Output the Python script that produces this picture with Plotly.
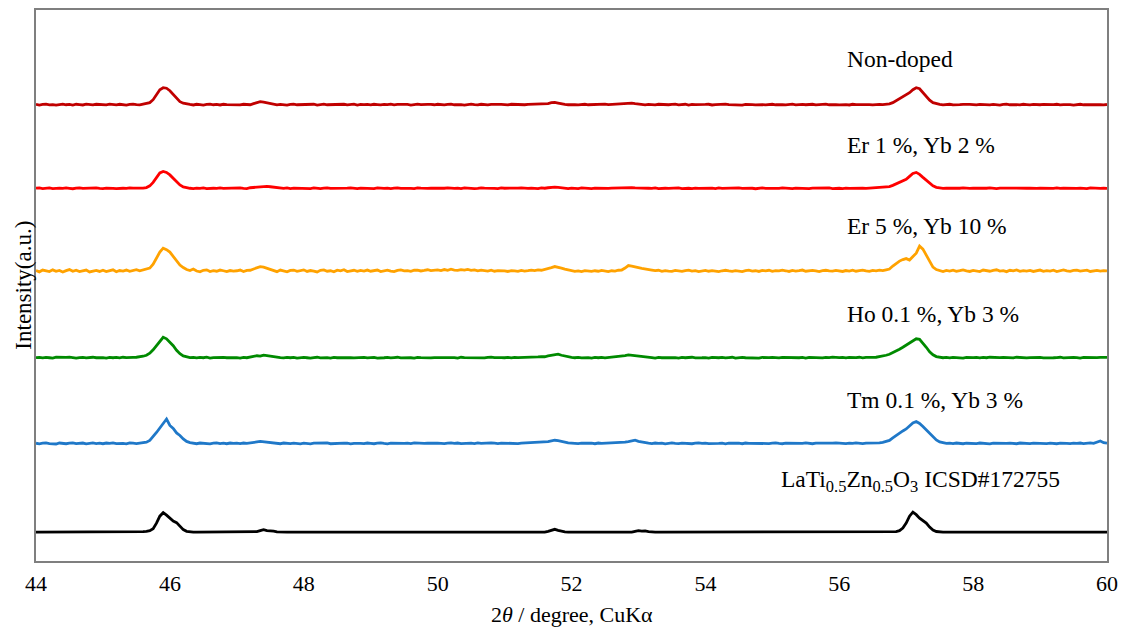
import plotly.graph_objects as go

# ---------------- data ----------------
# 2theta grid (degree), 0.05 step, one row per degree
X = [
 44.00,44.05,44.10,44.15,44.20,44.25,44.30,44.35,44.40,44.45,44.50,44.55,44.60,44.65,44.70,44.75,44.80,44.85,44.90,44.95,
 45.00,45.05,45.10,45.15,45.20,45.25,45.30,45.35,45.40,45.45,45.50,45.55,45.60,45.65,45.70,45.75,45.80,45.85,45.90,45.95,
 46.00,46.05,46.10,46.15,46.20,46.25,46.30,46.35,46.40,46.45,46.50,46.55,46.60,46.65,46.70,46.75,46.80,46.85,46.90,46.95,
 47.00,47.05,47.10,47.15,47.20,47.25,47.30,47.35,47.40,47.45,47.50,47.55,47.60,47.65,47.70,47.75,47.80,47.85,47.90,47.95,
 48.00,48.05,48.10,48.15,48.20,48.25,48.30,48.35,48.40,48.45,48.50,48.55,48.60,48.65,48.70,48.75,48.80,48.85,48.90,48.95,
 49.00,49.05,49.10,49.15,49.20,49.25,49.30,49.35,49.40,49.45,49.50,49.55,49.60,49.65,49.70,49.75,49.80,49.85,49.90,49.95,
 50.00,50.05,50.10,50.15,50.20,50.25,50.30,50.35,50.40,50.45,50.50,50.55,50.60,50.65,50.70,50.75,50.80,50.85,50.90,50.95,
 51.00,51.05,51.10,51.15,51.20,51.25,51.30,51.35,51.40,51.45,51.50,51.55,51.60,51.65,51.70,51.75,51.80,51.85,51.90,51.95,
 52.00,52.05,52.10,52.15,52.20,52.25,52.30,52.35,52.40,52.45,52.50,52.55,52.60,52.65,52.70,52.75,52.80,52.85,52.90,52.95,
 53.00,53.05,53.10,53.15,53.20,53.25,53.30,53.35,53.40,53.45,53.50,53.55,53.60,53.65,53.70,53.75,53.80,53.85,53.90,53.95,
 54.00,54.05,54.10,54.15,54.20,54.25,54.30,54.35,54.40,54.45,54.50,54.55,54.60,54.65,54.70,54.75,54.80,54.85,54.90,54.95,
 55.00,55.05,55.10,55.15,55.20,55.25,55.30,55.35,55.40,55.45,55.50,55.55,55.60,55.65,55.70,55.75,55.80,55.85,55.90,55.95,
 56.00,56.05,56.10,56.15,56.20,56.25,56.30,56.35,56.40,56.45,56.50,56.55,56.60,56.65,56.70,56.75,56.80,56.85,56.90,56.95,
 57.00,57.05,57.10,57.15,57.20,57.25,57.30,57.35,57.40,57.45,57.50,57.55,57.60,57.65,57.70,57.75,57.80,57.85,57.90,57.95,
 58.00,58.05,58.10,58.15,58.20,58.25,58.30,58.35,58.40,58.45,58.50,58.55,58.60,58.65,58.70,58.75,58.80,58.85,58.90,58.95,
 59.00,59.05,59.10,59.15,59.20,59.25,59.30,59.35,59.40,59.45,59.50,59.55,59.60,59.65,59.70,59.75,59.80,59.85,59.90,59.95,
 60.00,
]

NON_DOPED = [
 0.3,-0.4,0.2,0.5,-0.2,0.1,-0.5,0.3,0.6,-0.1,0.2,-0.4,0.4,0.1,-0.3,0.5,0.2,-0.2,0.4,0.0,
 0.2,-0.3,0.5,0.1,-0.2,0.4,0.0,-0.4,0.3,0.6,0.0,-0.2,0.5,1.0,2.0,5.0,10.0,15.0,17.0,16.5,
 14.0,10.0,6.0,3.0,1.5,0.5,0.2,-0.3,0.4,0.1,-0.4,0.3,0.5,-0.1,0.2,-0.3,0.4,0.0,-0.2,0.3,
 0.1,-0.3,0.4,0.2,-0.1,1.0,2.0,3.0,2.5,2.0,1.2,0.5,-0.2,0.3,0.0,-0.4,0.2,0.5,-0.1,0.1,
 0.3,-0.2,0.1,0.4,-0.4,0.2,0.5,-0.1,0.0,0.3,-0.3,0.2,0.4,-0.2,0.1,0.5,-0.4,0.2,0.0,0.3,
 -0.2,0.4,0.1,-0.3,0.3,0.0,0.5,-0.2,0.2,0.4,-0.1,0.3,-0.4,0.1,0.5,0.0,-0.2,0.3,0.2,-0.1,
 0.4,0.0,-0.3,0.2,0.5,-0.1,0.3,0.1,-0.4,0.2,0.6,0.0,-0.2,0.4,0.1,-0.3,0.3,0.5,0.0,0.2,
 0.1,-0.2,0.4,0.2,0.0,0.5,-0.1,0.3,0.4,0.1,0.6,0.2,0.5,1.0,2.0,2.2,1.5,0.6,0.2,-0.1,
 0.3,0.0,-0.3,0.2,0.4,-0.1,0.1,0.3,-0.2,0.2,0.5,0.0,0.3,0.1,0.4,0.6,1.2,1.6,1.5,1.0,
 0.5,0.2,-0.2,0.3,0.1,-0.3,0.4,0.0,0.2,-0.1,0.3,0.5,-0.2,0.1,0.4,-0.4,0.2,0.0,0.3,-0.1,
 0.2,0.4,-0.3,0.1,0.3,-0.1,0.5,0.0,-0.2,0.3,0.1,-0.4,0.2,0.4,0.0,-0.2,0.3,0.1,-0.3,0.2,
 0.4,-0.1,0.2,0.0,-0.3,0.3,0.5,-0.2,0.1,0.3,-0.1,0.2,0.4,-0.3,0.0,0.2,0.5,-0.1,0.3,0.1,
 -0.2,0.3,0.1,-0.3,0.4,0.0,0.2,-0.1,0.5,0.1,-0.2,0.3,0.2,0.0,0.4,0.8,2.0,4.0,6.0,8.0,
 10.0,12.0,15.0,17.0,16.0,12.0,8.0,4.5,2.0,0.8,0.3,-0.2,0.1,0.4,-0.3,0.2,0.0,0.3,-0.1,0.2,
 0.1,-0.3,0.3,0.0,0.4,-0.2,0.2,0.1,-0.4,0.3,0.5,-0.1,0.2,0.0,-0.3,0.4,0.1,-0.2,0.3,0.0,
 -0.1,0.3,0.2,-0.3,0.1,0.4,-0.2,0.0,0.3,0.1,-0.4,0.2,0.4,-0.1,0.0,0.3,-0.2,0.2,0.1,-0.3,
 0.2,
]

ER1_YB2 = [
 0.2,0.5,-0.2,0.0,0.4,-0.3,0.1,0.3,-0.1,0.4,0.0,-0.4,0.2,0.5,-0.1,0.1,0.3,-0.2,0.4,0.0,
 -0.3,0.2,0.4,0.0,-0.2,0.3,0.1,-0.1,0.5,0.2,0.0,0.4,0.3,0.8,2.5,6.0,11.0,15.5,17.0,16.0,
 13.5,10.0,6.5,3.5,1.5,0.6,0.1,-0.2,0.3,0.0,0.4,-0.3,0.2,0.1,-0.1,0.4,0.0,0.2,-0.3,0.3,
 0.1,0.4,0.0,-0.2,0.6,1.0,1.5,1.8,2.2,2.0,1.6,1.2,0.7,0.3,0.0,0.4,-0.2,0.2,0.1,-0.3,
 0.3,0.0,-0.2,0.4,0.1,-0.3,0.2,0.5,0.0,-0.1,0.3,0.1,-0.4,0.2,0.4,0.0,-0.2,0.3,0.1,0.0,
 0.2,-0.3,0.4,0.1,0.0,0.3,-0.2,0.2,0.5,-0.1,0.1,0.3,0.0,-0.3,0.4,0.2,-0.1,0.0,0.3,0.1,
 -0.2,0.3,0.1,0.4,-0.1,0.0,0.2,-0.3,0.4,0.1,0.3,-0.2,0.0,0.5,0.2,-0.1,0.3,0.0,-0.2,0.4,
 0.1,0.0,0.3,-0.2,0.2,0.4,0.0,-0.1,0.3,0.2,-0.3,0.4,0.1,0.6,1.0,1.2,0.9,0.5,0.1,-0.2,
 0.3,0.1,-0.2,0.4,0.0,0.2,-0.3,0.3,0.1,0.0,0.4,-0.1,0.2,0.3,0.0,0.5,0.8,1.0,0.7,0.4,
 0.2,-0.2,0.3,0.1,0.0,0.4,-0.3,0.2,0.1,-0.1,0.3,0.0,0.4,-0.2,0.2,0.1,-0.3,0.3,0.0,0.2,
 -0.1,0.3,0.2,-0.3,0.4,0.0,0.1,0.3,-0.2,0.2,0.5,-0.1,0.0,0.3,0.1,-0.4,0.2,0.4,0.0,-0.2,
 0.3,0.1,-0.1,0.4,0.0,0.2,-0.3,0.3,0.1,0.0,0.4,-0.2,0.2,0.3,-0.1,0.1,0.0,0.4,-0.2,0.2,
 0.1,-0.2,0.3,0.0,0.2,-0.1,0.4,0.1,0.0,0.3,0.5,0.4,0.8,1.0,1.2,1.8,3.0,4.5,5.5,7.0,
 9.0,12.0,15.0,16.0,14.0,11.0,8.0,5.0,2.5,1.0,0.3,-0.1,0.2,0.0,0.3,-0.2,0.1,0.4,0.0,-0.1,
 0.2,0.0,0.3,-0.2,0.1,0.4,0.0,-0.3,0.2,0.1,0.3,-0.1,0.0,0.4,0.2,-0.2,0.1,0.3,0.0,-0.1,
 0.3,0.1,-0.2,0.2,0.0,0.4,-0.1,0.3,0.1,-0.3,0.2,0.0,0.3,0.1,-0.2,0.4,0.0,0.2,-0.1,0.1,
 0.0,
]

ER5_YB10 = [
 0.5,-0.8,1.0,0.2,-0.5,1.2,-0.3,0.6,-1.0,0.4,1.5,-0.2,0.8,-0.6,0.3,1.0,-0.9,0.2,0.7,-0.4,
 0.9,-0.5,0.3,1.2,-0.7,0.5,0.0,1.0,-0.3,0.6,1.3,0.2,1.0,1.5,3.0,7.0,13.0,19.0,23.0,21.5,
 19.0,15.0,10.0,6.0,3.5,1.5,0.5,2.0,0.0,-0.8,0.8,1.2,-0.5,0.4,-0.2,1.0,0.3,-0.6,0.5,0.0,
 0.3,1.0,-0.5,0.6,0.8,2.0,3.0,4.5,4.0,3.0,1.5,0.5,-0.6,1.0,0.2,-0.8,0.6,1.0,-0.3,0.4,
 1.2,-0.4,0.5,0.0,-0.9,0.7,1.1,-0.2,0.3,-0.7,0.9,0.2,1.3,-0.5,0.4,0.8,-0.3,0.6,0.0,1.0,
 -0.2,0.6,1.0,-0.5,0.3,0.9,0.0,-0.6,0.7,1.2,0.2,0.5,-0.3,0.8,1.0,0.1,0.6,1.3,0.4,0.9,
 1.2,0.5,1.5,0.8,1.8,1.0,0.6,1.4,0.9,1.6,0.7,1.2,0.3,1.0,0.5,0.0,0.8,-0.2,0.4,0.6,
 0.2,-0.4,0.5,0.1,-0.3,0.7,0.0,0.4,0.9,0.5,1.2,0.8,1.5,2.5,3.5,4.5,4.0,3.0,2.0,1.2,
 0.5,-0.3,0.2,-0.6,0.4,0.0,-0.4,0.3,-0.2,0.6,0.1,-0.5,0.3,0.0,0.8,1.0,3.0,5.5,5.0,4.0,
 3.5,2.8,2.0,1.5,1.0,0.4,0.8,-0.2,0.5,0.0,-0.4,0.6,0.2,-0.3,0.5,0.9,0.0,0.4,-0.5,0.3,
 0.7,-0.2,0.4,0.0,-0.6,0.3,0.8,0.1,-0.3,0.5,0.2,-0.5,0.4,0.9,0.0,0.3,-0.4,0.6,0.2,0.8,
 -0.3,0.5,0.1,0.9,0.3,-0.4,0.6,0.0,0.4,1.0,-0.2,0.3,0.7,0.1,-0.5,0.4,0.8,0.2,-0.1,0.6,
 0.3,-0.4,0.5,0.0,0.8,-0.2,0.4,1.0,0.1,-0.3,0.6,0.2,0.9,0.4,1.2,2.0,5.0,8.0,10.0,11.5,
 12.5,11.0,14.0,18.0,25.0,22.0,16.0,10.0,4.0,1.5,0.3,-0.5,0.6,0.0,0.9,-0.3,0.4,1.2,0.2,-0.4,
 0.7,0.1,-0.5,1.0,0.3,-0.2,0.6,1.3,0.0,0.4,-0.6,0.8,0.2,1.1,-0.3,0.5,0.0,0.7,-0.4,0.3,
 1.0,-0.2,0.5,0.0,0.8,-0.5,0.3,1.1,0.2,-0.3,0.6,1.0,-0.1,0.4,0.9,-0.4,0.2,0.7,0.0,0.5,
 0.2,
]

HO01_YB3 = [
 0.1,0.4,-0.2,0.3,0.0,-0.4,0.5,0.2,-0.1,0.3,0.6,0.0,-0.3,0.2,0.4,-0.2,0.1,0.5,0.0,0.3,
 0.2,-0.3,0.4,0.0,0.3,-0.2,0.5,0.1,-0.1,0.4,0.5,0.8,1.5,2.5,4.5,8.0,12.0,16.5,20.5,19.0,
 16.0,12.0,7.5,4.0,1.8,0.6,0.1,0.4,-0.2,0.3,0.0,0.5,-0.3,0.2,0.4,-0.1,0.3,0.0,0.2,-0.3,
 0.2,-0.3,0.4,0.0,0.8,1.5,2.0,1.6,2.6,2.2,1.5,1.0,0.4,0.1,-0.2,0.3,0.0,0.4,-0.3,0.2,
 0.3,0.0,-0.4,0.2,0.5,-0.1,0.3,0.1,-0.3,0.4,0.0,0.2,-0.2,0.5,0.1,-0.1,0.3,0.0,0.4,-0.2,
 0.1,0.3,-0.3,0.2,0.0,0.4,-0.1,0.2,0.5,-0.2,0.1,0.3,0.0,-0.3,0.4,0.2,0.0,0.5,-0.1,0.2,
 0.3,-0.2,0.1,0.4,0.0,0.2,-0.3,0.5,0.1,0.0,0.3,-0.1,0.4,0.2,-0.2,0.3,0.6,0.1,0.4,0.2,
 0.0,0.3,-0.2,0.4,0.1,0.2,0.5,0.0,0.3,0.6,0.8,1.2,1.0,1.8,2.2,2.8,3.6,2.5,1.5,0.8,
 0.3,0.0,0.4,-0.2,0.2,0.1,-0.3,0.3,0.0,0.4,-0.1,0.2,0.5,0.8,1.2,1.8,2.2,2.8,2.5,2.0,
 1.6,1.2,0.9,0.5,0.2,-0.4,0.3,0.0,0.2,-0.2,0.4,0.1,-0.3,0.3,0.0,0.2,0.5,-0.1,0.3,0.0,
 0.2,-0.3,0.4,0.1,0.0,0.3,-0.2,0.2,0.5,-0.4,0.1,0.3,0.0,-0.1,0.4,0.2,-0.3,0.3,0.0,0.2,
 0.4,0.0,-0.2,0.3,0.1,0.5,-0.1,0.2,0.0,0.3,-0.3,0.4,0.2,0.0,0.3,-0.2,0.4,0.1,0.6,0.2,
 0.1,0.4,-0.2,0.3,0.0,0.2,0.5,-0.1,0.3,0.1,0.4,0.5,1.0,1.8,2.5,3.5,5.0,6.5,8.5,10.5,
 12.5,14.5,17.0,19.0,18.5,15.0,10.5,6.0,3.0,1.2,0.4,0.0,0.3,-0.2,0.4,0.1,0.2,-0.3,0.3,0.0,
 0.2,0.4,-0.1,0.3,0.0,0.5,0.2,-0.3,0.1,0.4,0.0,0.2,-0.2,0.5,0.1,0.3,-0.1,0.2,0.4,0.0,
 0.3,-0.2,0.1,0.4,0.0,0.2,0.5,-0.1,0.3,0.0,0.4,0.2,-0.3,0.3,0.1,0.6,0.0,0.2,0.4,0.1,
 0.3,
]

TM01_YB3 = [
 0.2,-0.4,0.3,0.5,-0.1,0.0,-0.6,0.4,0.1,-0.3,0.3,0.6,-0.2,0.0,0.4,-0.5,0.2,0.5,-0.1,0.3,
 -0.3,0.4,0.0,0.6,-0.2,0.3,0.1,-0.4,0.5,0.2,-0.1,0.4,0.5,1.2,3.0,6.5,11.0,15.5,20.0,24.5,
 18.0,15.0,10.5,8.0,4.5,2.0,0.8,0.2,-0.3,0.4,0.1,0.0,-0.4,0.3,0.5,-0.1,0.2,-0.3,0.4,0.0,
 0.3,-0.2,0.4,0.0,0.3,0.8,1.5,2.0,1.6,1.8,1.2,0.6,0.1,-0.3,0.4,0.0,-0.2,0.3,0.1,-0.4,
 0.2,0.0,-0.5,0.3,0.4,-0.2,0.1,0.5,-0.3,0.0,0.3,-0.1,0.4,0.2,-0.4,0.1,0.3,0.0,-0.2,0.4,
 0.1,-0.3,0.2,0.5,0.0,-0.4,0.3,0.1,0.4,-0.2,0.0,0.3,-0.1,0.5,0.2,-0.3,0.1,0.4,0.0,0.2,
 0.4,0.1,-0.2,0.3,0.6,0.0,0.4,-0.1,0.2,0.5,0.3,-0.2,0.6,0.1,0.4,0.0,0.5,0.2,-0.1,0.4,
 0.3,0.0,0.5,0.2,-0.2,0.4,0.6,0.1,0.3,0.5,0.8,1.0,1.2,1.8,2.5,3.2,2.8,1.8,1.2,0.6,
 0.4,0.1,-0.2,0.3,0.5,0.0,0.2,-0.3,0.4,0.1,0.3,0.0,0.5,0.2,0.6,0.8,1.2,1.8,2.5,3.2,
 2.0,1.2,0.6,0.2,-0.2,0.4,0.0,0.3,-0.4,0.2,0.5,0.1,-0.2,0.3,0.0,0.4,-0.3,0.2,0.5,0.0,
 0.3,-0.2,0.1,0.4,0.0,0.2,-0.4,0.3,0.5,0.0,0.2,-0.3,0.4,0.1,0.0,0.3,-0.2,0.4,0.1,-0.1,
 0.2,0.5,0.0,-0.3,0.3,0.1,0.4,-0.2,0.2,0.0,0.5,0.1,-0.3,0.3,0.2,0.6,0.0,0.4,0.3,0.5,
 0.1,0.4,-0.2,0.3,0.0,0.5,0.2,-0.1,0.4,0.3,0.2,0.5,0.6,1.0,1.8,3.0,5.5,8.0,10.0,12.5,
 14.5,17.5,20.5,22.0,20.0,17.0,13.5,10.0,6.5,3.5,1.5,0.5,0.0,0.3,-0.2,0.4,0.1,-0.3,0.2,0.0,
 0.3,-0.1,0.4,0.0,0.2,-0.4,0.3,0.1,0.5,-0.2,0.0,0.3,0.2,-0.3,0.4,0.1,0.0,-0.2,0.3,0.1,
 0.2,0.4,-0.1,0.3,0.0,-0.3,0.2,0.5,0.1,-0.2,0.3,0.0,0.4,-0.1,0.2,0.6,0.1,1.0,2.5,0.8,
 0.3,
]

ICSD_172755 = [
 0,0,0,0,0,0,0,0,0,0,0,0,0,0,0,0,0,0,0,0,
 0,0,0,0,0,0,0,0,0,0,0,0.3,0.5,0.8,1.5,3.5,9.0,16.0,19.5,17.0,
 13.5,11.0,9.5,6.0,2.5,0.8,0.2,0,0,0,0,0,0,0,0,0,0,0,0,0,
 0,0,0,0,0,0,0.5,1.5,2.5,1.5,1.6,1.0,0.3,0,0,0,0,0,0,0,
 0,0,0,0,0,0,0,0,0,0,0,0,0,0,0,0,0,0,0,0,
 0,0,0,0,0,0,0,0,0,0,0,0,0,0,0,0,0,0,0,0,
 0,0,0,0,0,0.3,0.6,0.3,0,0,0,0,0,0,0,0,0,0,0,0,
 0,0,0,0,0,0,0,0,0,0,0,0,0,0.8,2.0,2.8,1.8,0.8,0.2,0,
 0,0,0,0,0,0,0,0,0,0,0,0,0,0,0,0,0,0,0,0.8,
 1.5,1.0,1.3,0.5,0,0,0,0,0,0,0,0,0,0,0,0,0,0,0,0,
 0,0,0,0,0,0,0,0,0,0,0,0,0,0,0,0,0,0,0,0,
 0,0,0,0,0,0,0,0,0,0,0,0,0,0,0,0,0,0,0,0,
 0,0,0,0,0,0,0,0,0,0,0,0,0,0,0,0,0,0.5,1.5,4.0,
 9.0,16.0,20.0,17.5,14.0,11.5,9.0,5.0,2.0,0.6,0.1,0,0,0,0,0,0,0,0,0,
 0,0,0,0,0,0,0,0.5,0,0,0,0,0,0,0,0,0,0,0,0,
 0,0,0,0,0,0,0,0,0,0,0,0,0,0,0,0,0,0,0,0,
 0,
]

SERIES_NAMES = ["Non-doped", "Er 1 %, Yb 2 %", "Er 5 %, Yb 10 %",
                "Ho 0.1 %, Yb 3 %", "Tm 0.1 %, Yb 3 %",
                "LaTi<sub>0.5</sub>Zn<sub>0.5</sub>O<sub>3</sub> ICSD#172755"]
SERIES_VALUES = [NON_DOPED, ER1_YB2, ER5_YB10, HO01_YB3, TM01_YB3, ICSD_172755]
OFFSETS = [458, 374, 291, 204, 118, 29]          # vertical stacking offsets (a.u.)
LABEL_Y = [504, 418, 336, 248, 162, 80]          # label heights (a.u.)
LABEL_X = [56.09, 56.09, 56.09, 56.09, 56.09, 55.10]
COLORS = ["#C00000", "#FF0000", "#FFA200", "#008A00", "#1F78C8", "#000000"]

for s in SERIES_VALUES:
    assert len(s) == len(X), (len(s), len(X))

FONT = "Liberation Serif, Times New Roman, serif"

fig = go.Figure()
for name, vals, off, col in zip(SERIES_NAMES, SERIES_VALUES, OFFSETS, COLORS):
    fig.add_trace(go.Scatter(
        x=X, y=[v + off for v in vals], mode="lines", name=name,
        line=dict(color=col, width=2.8), showlegend=False, hoverinfo="skip"))

annotations = []
for name, lx, ly in zip(SERIES_NAMES, LABEL_X, LABEL_Y):
    annotations.append(dict(x=lx, y=ly, xref="x", yref="y", text=name,
                            showarrow=False, xanchor="left", yanchor="middle",
                            font=dict(family=FONT, size=23.5, color="#000000")))
annotations.append(dict(x=-0.012, y=0.5, xref="paper", yref="paper",
                        text="Intensity(a.u.)", textangle=-90, showarrow=False,
                        xanchor="center", yanchor="middle",
                        font=dict(family=FONT, size=23, color="#000000")))
annotations.append(dict(x=0.5, y=-0.098, xref="paper", yref="paper",
                        text="2<i>θ</i> / degree, CuKα", showarrow=False,
                        xanchor="center", yanchor="middle",
                        font=dict(family=FONT, size=22, color="#000000")))

fig.update_layout(
    width=1126, height=627,
    margin=dict(l=36, r=16, t=8, b=66),
    paper_bgcolor="white", plot_bgcolor="white",
    annotations=annotations,
    xaxis=dict(range=[44, 60], tickvals=[44, 46, 48, 50, 52, 54, 56, 58, 60],
               ticks="", ticklabelstandoff=2, showgrid=False, zeroline=False,
               showline=True, mirror=True, linecolor="#7F7F7F", linewidth=1.5,
               tickfont=dict(family=FONT, size=22, color="#000000")),
    yaxis=dict(range=[0, 553], showticklabels=False, ticks="", showgrid=False,
               zeroline=False, showline=True, mirror=True,
               linecolor="#7F7F7F", linewidth=1.5),
)

fig.write_html("out.html")
